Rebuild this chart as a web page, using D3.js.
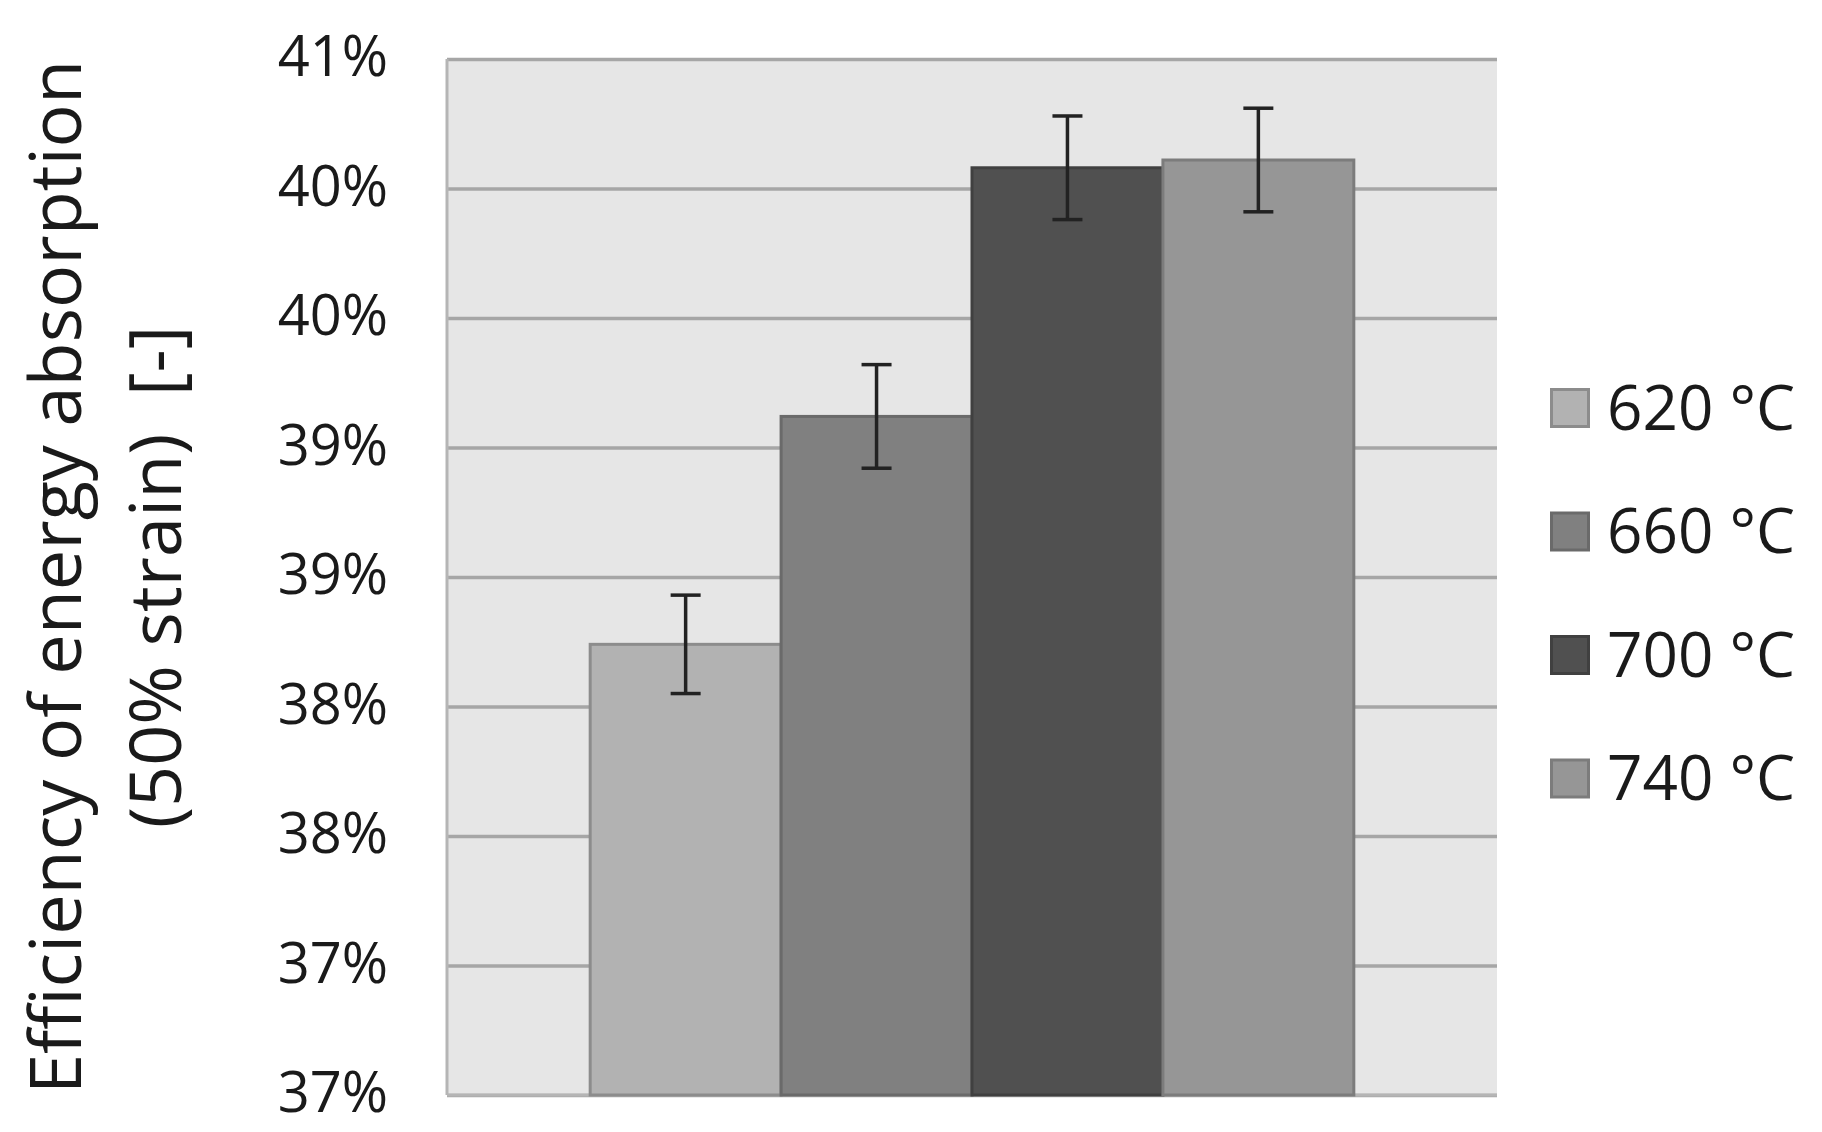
<!DOCTYPE html>
<html>
<head>
<meta charset="utf-8">
<script src="https://cdn.jsdelivr.net/npm/d3@7"></script>
<style>
  body { margin: 0; background: #fff; }
  text { font-family: "Open Sans", sans-serif; fill: #1a1a1a; }
</style>
</head>
<body>
<svg id="chart" width="1822" height="1132"></svg>
<script>
// data (values in %)
var categories = ["620 °C", "660 °C", "700 °C", "740 °C"];
var values = [38.24, 39.12, 40.08, 40.11];
var errors = [0.19, 0.20, 0.20, 0.20];
var colors = ["#b2b2b2", "#808080", "#505050", "#969696"];
var strokes = ["#8c8c8c", "#6a6a6a", "#404040", "#7c7c7c"];
var tickValues = [36.5, 37, 37.5, 38, 38.5, 39, 39.5, 40, 40.5];
var tickLabels = ["37%", "37%", "38%", "38%", "39%", "39%", "40%", "40%", "41%"];
var titleLines = ["Efficiency of energy absorption", "(50% strain)\u00a0\u00a0[-]"];

var svg = d3.select("#chart"),
    margin = {top: 59, right: 325, bottom: 37, left: 447},
    width = +svg.attr("width") - margin.left - margin.right,
    height = +svg.attr("height") - margin.top - margin.bottom,
    g = svg.append("g").attr("transform", "translate(" + margin.left + "," + margin.top + ")");

// one group, four bars side by side, excel style gap of 150%
var x = d3.scaleBand()
    .domain(categories)
    .range([0, width])
    .paddingInner(0)
    .paddingOuter(0.75);

var y = d3.scaleLinear()
    .domain([36.5, 40.5])
    .range([height, 0]);

// plot area background
g.append("rect")
    .attr("width", width)
    .attr("height", height)
    .attr("fill", "#e6e6e6");

// gridlines
g.append("g")
    .attr("class", "grid")
    .call(d3.axisLeft(y).tickValues(tickValues).tickSize(-width).tickFormat(""))
    .call(function(s) {
      s.select(".domain").remove();
      s.selectAll("line").attr("stroke", "#a6a6a6").attr("stroke-width", 3.5);
    });

// left and bottom border of the plot area
g.append("line")
    .attr("x1", 0).attr("x2", 0)
    .attr("y1", 0).attr("y2", height)
    .attr("stroke", "#b5b5b5").attr("stroke-width", 3);
g.append("line")
    .attr("x1", 0).attr("x2", width)
    .attr("y1", height).attr("y2", height)
    .attr("stroke", "#b5b5b5").attr("stroke-width", 3);

// bars
g.selectAll("rect.bar")
    .data(categories)
    .enter().append("rect")
      .attr("class", "bar")
      .attr("x", function(d) { return x(d); })
      .attr("y", function(d, i) { return y(values[i]); })
      .attr("width", x.bandwidth())
      .attr("height", function(d, i) { return height - y(values[i]); })
      .attr("fill", function(d, i) { return colors[i]; })
      .attr("stroke", function(d, i) { return strokes[i]; })
      .attr("stroke-width", 3);

// error bars
var err = g.selectAll("g.err")
    .data(categories)
    .enter().append("g")
      .attr("class", "err")
      .attr("stroke", "#222")
      .attr("stroke-width", 3.5);

err.append("line")
    .attr("x1", function(d) { return x(d) + x.bandwidth() / 2; })
    .attr("x2", function(d) { return x(d) + x.bandwidth() / 2; })
    .attr("y1", function(d, i) { return y(values[i] + errors[i]); })
    .attr("y2", function(d, i) { return y(values[i] - errors[i]); });

[1, -1].forEach(function(sign) {
  err.append("line")
      .attr("x1", function(d) { return x(d) + x.bandwidth() / 2 - 15; })
      .attr("x2", function(d) { return x(d) + x.bandwidth() / 2 + 15; })
      .attr("y1", function(d, i) { return y(values[i] + sign * errors[i]); })
      .attr("y2", function(d, i) { return y(values[i] + sign * errors[i]); });
});

// y axis labels
g.append("g")
    .attr("class", "yaxis")
    .call(d3.axisLeft(y).tickValues(tickValues).tickSize(0).tickPadding(59)
      .tickFormat(function(d, i) { return tickLabels[i]; }))
    .call(function(s) {
      s.select(".domain").remove();
      s.selectAll("text")
          .attr("font-size", 56)
          .attr("font-family", "Open Sans, sans-serif")
          .attr("fill", "#1a1a1a")
          .attr("dy", "0.3em");
    });

// y axis title, two lines
svg.append("g")
    .attr("transform", "translate(0," + (margin.top + height / 2) + ") rotate(-90)")
  .selectAll("text")
  .data(titleLines)
  .enter().append("text")
    .attr("x", 0)
    .attr("y", function(d, i) { return 81 + i * 100; })
    .attr("text-anchor", "middle")
    .attr("font-size", 72)
    .text(function(d) { return d; });

// legend
var legend = svg.append("g")
    .attr("transform", "translate(1550,0)")
  .selectAll("g")
  .data(categories)
  .enter().append("g")
    .attr("transform", function(d, i) { return "translate(0," + (408 + i * 123.5) + ")"; });

legend.append("rect")
    .attr("x", 1.5)
    .attr("y", -18.5)
    .attr("width", 37)
    .attr("height", 37)
    .attr("fill", function(d, i) { return colors[i]; })
    .attr("stroke", function(d, i) { return strokes[i]; })
    .attr("stroke-width", 3);

legend.append("text")
    .attr("x", 57)
    .attr("y", 0)
    .attr("dy", "0.35em")
    .attr("font-size", 62)
    .text(function(d) { return d; });
</script>
</body>
</html>
